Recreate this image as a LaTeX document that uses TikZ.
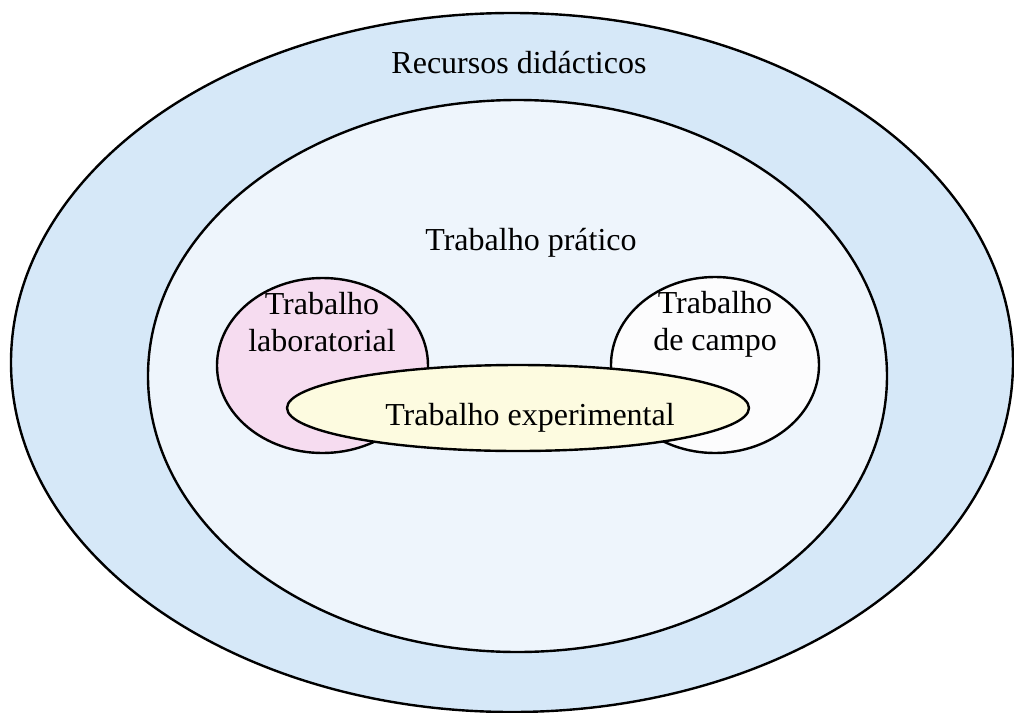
\documentclass[tikz,border=0pt]{standalone}
\usepackage{fontspec}
\setmainfont{Liberation Serif}
\usetikzlibrary{shapes.geometric}
\definecolor{outerblue}{RGB}{214,232,248}
\definecolor{innerblue}{RGB}{238,245,252}
\definecolor{labpink}{RGB}{246,220,240}
\definecolor{campowhite}{RGB}{252,252,253}
\definecolor{expyellow}{RGB}{253,251,224}
\tikzset{
  area/.style={ellipse,draw=black,line width=1.2pt,inner sep=0pt},
  tag/.style={font=\fontsize{16pt}{18.5pt}\selectfont,align=center,inner sep=0pt,anchor=base}
}
\begin{document}
\begin{tikzpicture}[x=0.5pt,y=-0.5pt]
\useasboundingbox (0,0) rectangle (1014,713);
\node[area,fill=outerblue,minimum width=501pt,minimum height=349.5pt] (recursos) at (512,362.5) {};
\node[area,fill=innerblue,minimum width=369.5pt,minimum height=276pt] (pratico) at (517.5,376) {};
\node[area,fill=labpink,minimum width=105.5pt,minimum height=87.5pt] (lab) at (322.5,365.5) {};
\node[area,fill=campowhite,minimum width=104pt,minimum height=88pt] (campo) at (715,365) {};
\node[area,fill=expyellow,minimum width=231pt,minimum height=43pt] (exp) at (518,408) {};
% labels
\node[tag] (tr) at (519,73) {Recursos didácticos};
\node[tag] (tp) at (531,250) {Trabalho prático};
\node[tag] (tl) at (322,351) {Trabalho\\laboratorial};
\node[tag] (tc) at (715,350) {Trabalho\\de campo};
\node[tag] (te) at (530,425) {Trabalho experimental};
\end{tikzpicture}
\end{document}
